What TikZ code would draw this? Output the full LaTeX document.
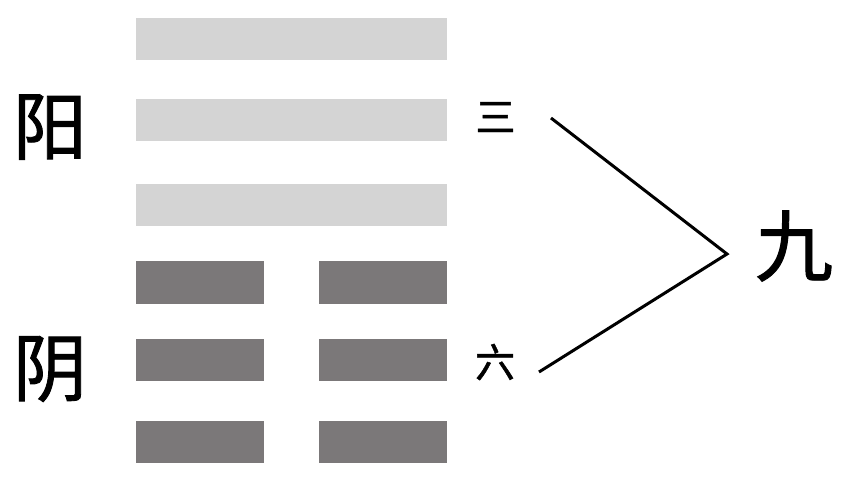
\documentclass[tikz,border=0pt]{standalone}
\usepackage{fontspec}
\newfontfamily\cjk[FakeBold=1.2]{Noto Sans CJK SC}
\definecolor{yangc}{HTML}{D4D4D4}
\definecolor{yinc}{HTML}{7B7879}
\begin{document}
\begin{tikzpicture}[x=1pt,y=-1pt,
  yangbar/.style={fill=yangc,draw=none},
  yinbar/.style={fill=yinc,draw=none},
  bigch/.style={inner sep=0pt,font=\cjk\fontsize{74}{74}\selectfont},
  smallch/.style={inner sep=0pt,font=\cjk\fontsize{40}{40}\selectfont},
  conn/.style={line width=3pt,line join=miter}]
\useasboundingbox (0,0) rectangle (849,483);
% yang bars
\path[yangbar] (136,18) rectangle (447,60);
\path[yangbar] (136,99) rectangle (447,141);
\path[yangbar] (136,184) rectangle (447,226);
% yin bars
\path[yinbar] (136,261) rectangle (264,304);
\path[yinbar] (319,261) rectangle (447,304);
\path[yinbar] (136,339) rectangle (264,381);
\path[yinbar] (319,339) rectangle (447,381);
\path[yinbar] (136,421) rectangle (264,463);
\path[yinbar] (319,421) rectangle (447,463);
% labels
\node[bigch] (yang) at (50,127) {阳};
\node[bigch] (yin) at (50,369) {阴};
\node[smallch] (san) at (495.5,117) {三};
\node[smallch] (liu) at (495,362) {六};
\node[font=\cjk\fontsize{78}{78}\selectfont,inner sep=0pt] (jiu) at (794,246) {九};
% connector
\coordinate (l3) at (551,118);
\coordinate (apex) at (727,254);
\coordinate (l6) at (539,372);
\draw[conn] (l3) -- (apex) -- (l6);
\end{tikzpicture}
\end{document}
